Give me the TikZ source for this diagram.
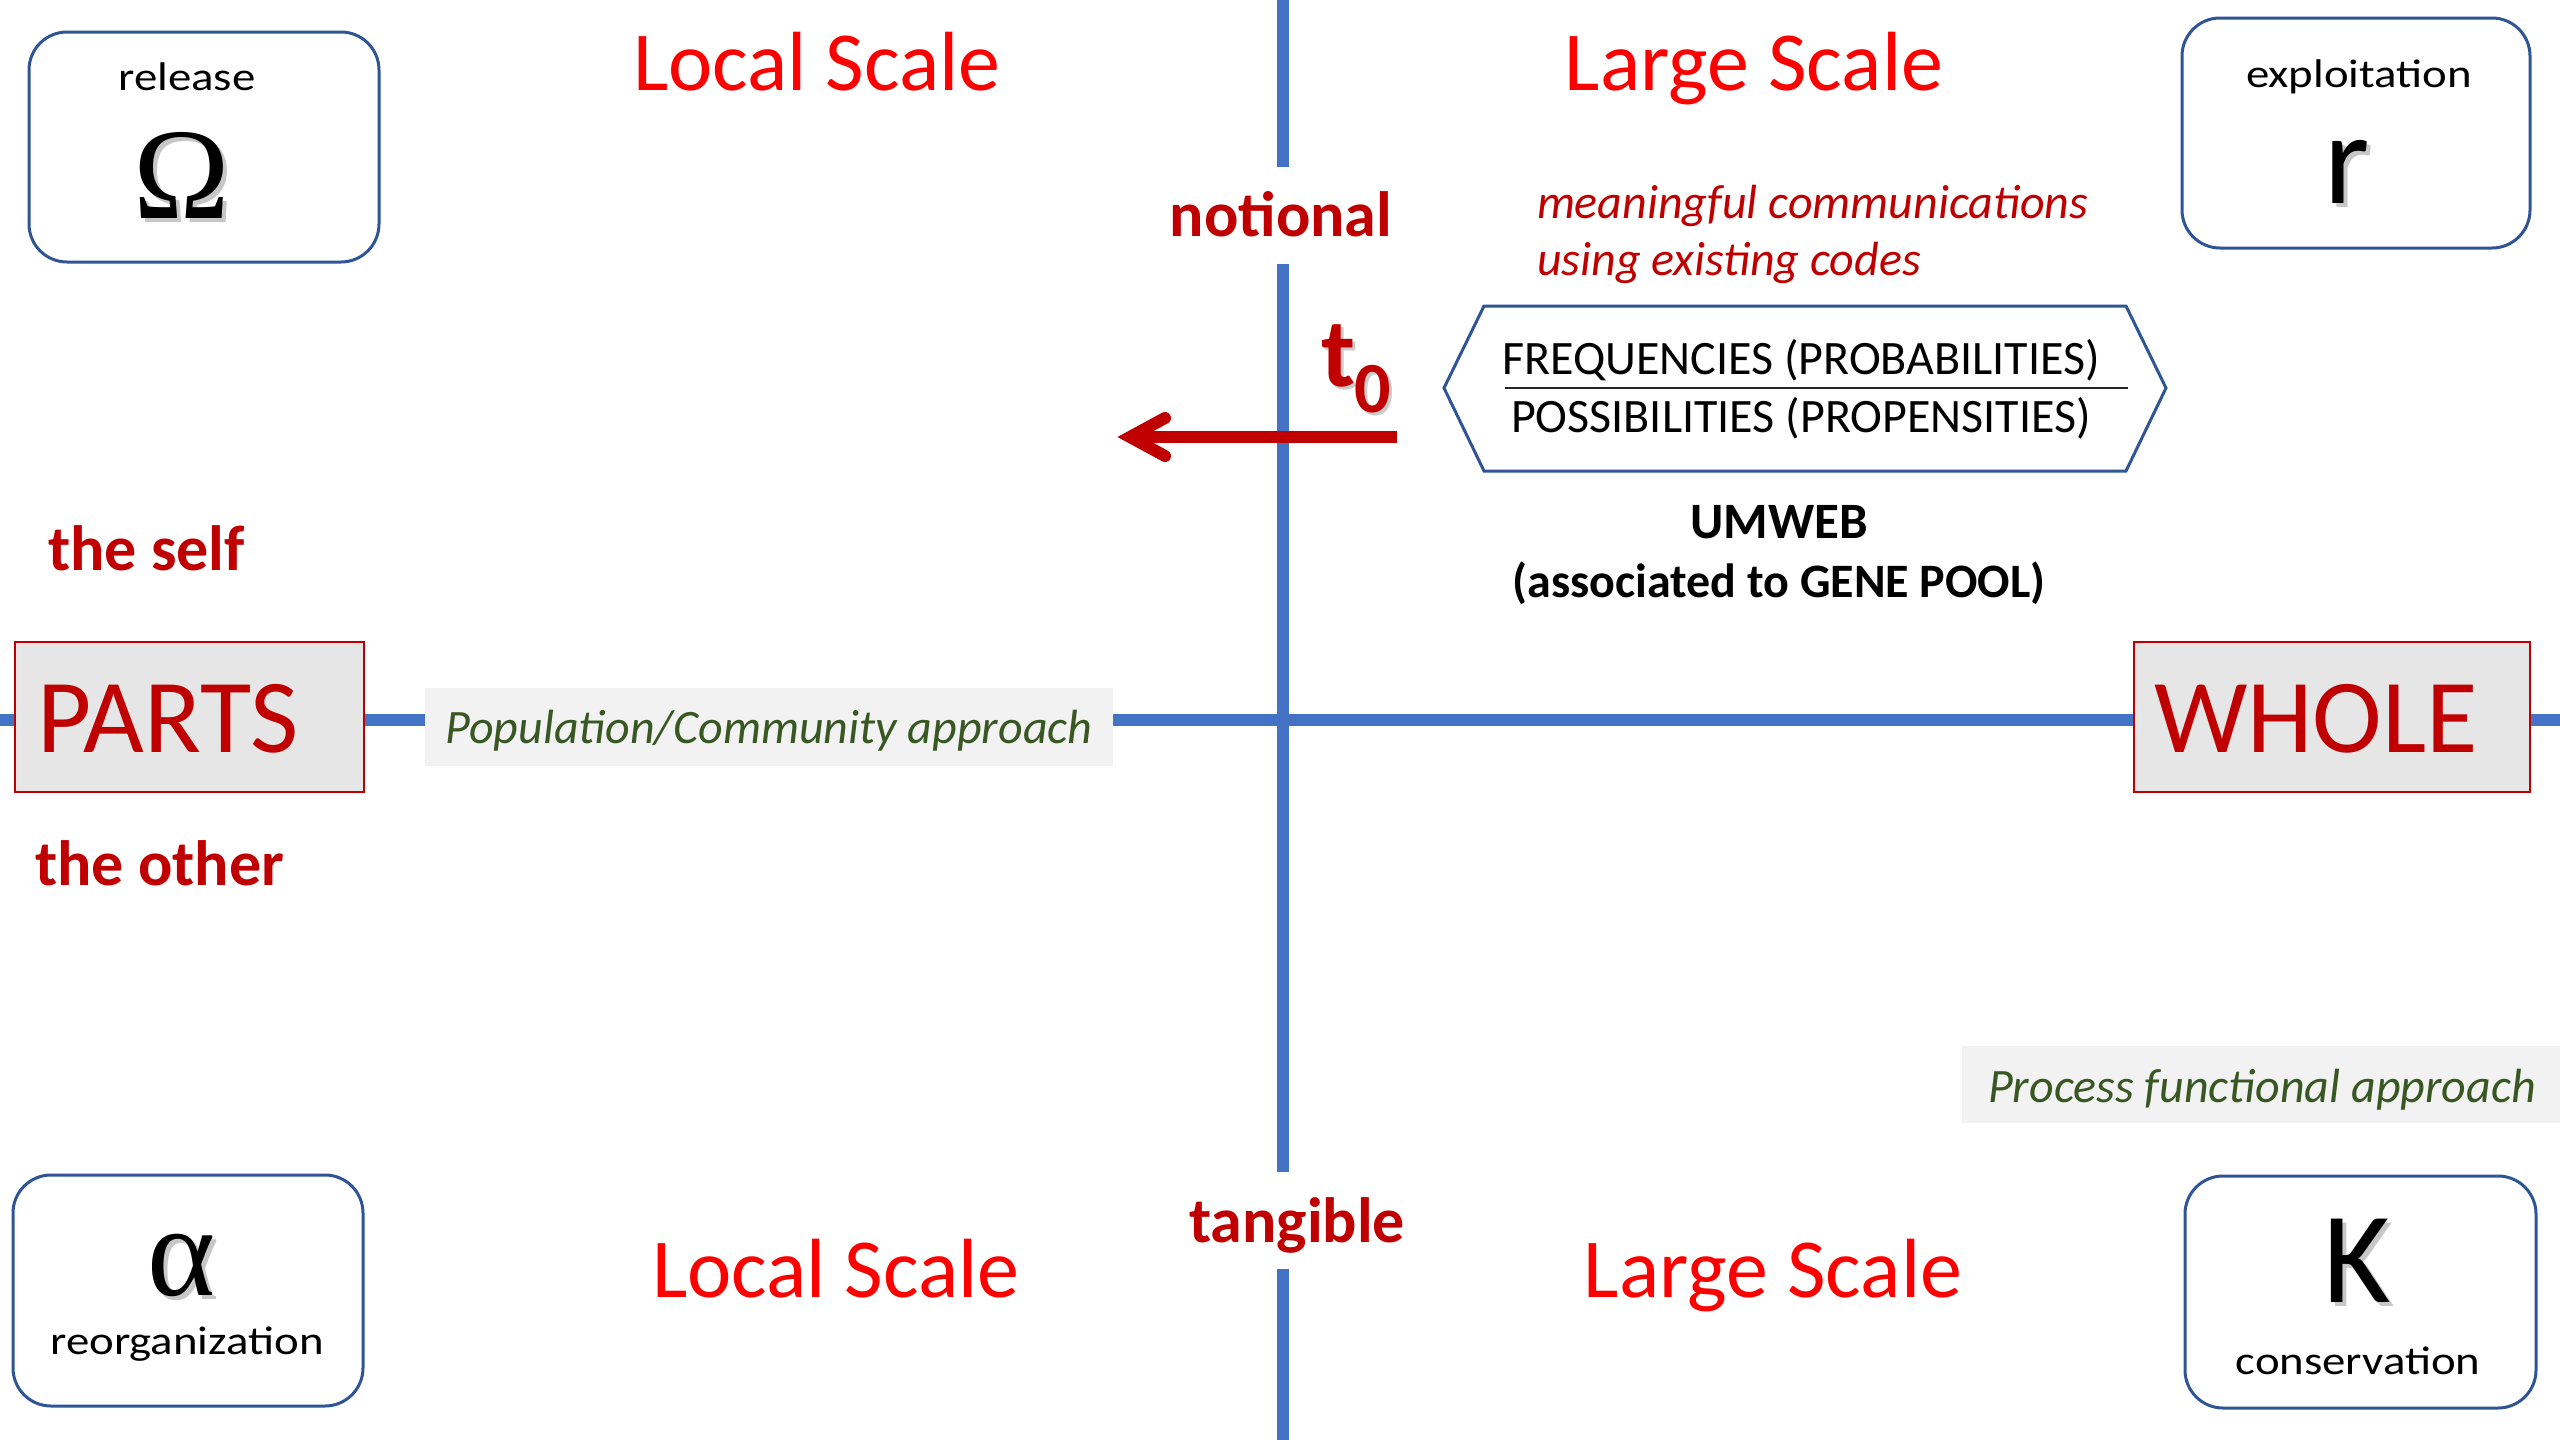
\documentclass[tikz,border=0pt]{standalone}
\usepackage{fontspec}
\setmainfont{Carlito}
\newfontfamily\serifgr{Liberation Serif}
\usetikzlibrary{calc}
\definecolor{axisblue}{HTML}{4472C4}
\definecolor{boxblue}{HTML}{2F5597}
\definecolor{darkred}{HTML}{C00000}
\definecolor{brightred}{HTML}{FF0000}
\definecolor{leafgreen}{HTML}{385723}
\definecolor{partsgray}{HTML}{E6E6E6}
\definecolor{labelgray}{HTML}{F2F2F2}
\newcommand{\fsz}[1]{\fontsize{#1}{#1}\selectfont}
\begin{document}
\begin{tikzpicture}[x=1pt,y=-1pt,
  every node/.style={inner sep=0pt, outer sep=0pt},
  axisline/.style={axisblue, line width=12pt},
  phasebox/.style={draw=boxblue, line width=3pt, rounded corners=38pt, fill=white},
  boxword/.style={font=\fsz{40}, text=black},
  bigsym/.style={font=\fsz{130}, text=black},
  symshadow/.style={font=\fsz{130}, text=black, opacity=0.22},
  termbox/.style={draw=darkred, line width=2pt, fill=partsgray, text=darkred, font=\fsz{105}, text height=110pt, text depth=40pt},
  approach/.style={fill=labelgray, text=leafgreen, font=\itshape\fsz{48}},
  scalelabel/.style={text=brightred, font=\fsz{84}},
  redbold/.style={text=darkred, font=\bfseries\fsz{64}},
  hexline/.style={draw=boxblue, line width=3pt, line join=miter}
]
\useasboundingbox (0,0) rectangle (2560,1440);
\fill[white] (0,0) rectangle (2560,1440);

% horizontal axis
\coordinate (hL) at (0,720);
\coordinate (hR) at (2560,720);
\draw[axisline] (hL) -- (hR);

% vertical axis with labels
\coordinate (vT) at (1283,0);
\coordinate (vB) at (1283,1440);
\node[redbold, anchor=base, text height=69pt, text depth=28pt] (notional) at (1281,236) {notional};
\node[redbold, anchor=base, text height=70pt, text depth=27pt] (tangible) at (1297,1242) {tangible};
\draw[axisline] (vT) -- (vT |- notional.north);
\draw[axisline] (vT |- notional.south) -- (vT |- tangible.north);
\draw[axisline] (vT |- tangible.south) -- (vB);

% scale labels
\node[scalelabel, anchor=base] (localtop) at (817,90) {Local Scale};
\node[scalelabel, anchor=base] (largetop) at (1754,90) {Large Scale};
\node[scalelabel, anchor=base] (localbot) at (836,1297) {Local Scale};
\node[scalelabel, anchor=base] (largebot) at (1773,1297) {Large Scale};

% corner boxes
\node[phasebox, minimum width=350pt, minimum height=230pt] (releasebox) at (204,147) {};
\node[boxword, anchor=base] (release) at (187,90) {\scalebox{1.17}[1]{release}};
\node[symshadow, anchor=base] (omegashadow) at (186,222) {\serifgr Ω};
\node[bigsym, anchor=base] (omega) at (182,218) {\serifgr Ω};

\node[phasebox, minimum width=348pt, minimum height=230pt] (exploitbox) at (2356,133) {};
\node[boxword, anchor=base] (exploit) at (2359,87) {\scalebox{1.17}[1]{exploitation}};
\node[symshadow, anchor=base] (rshadow) at (2351,207) {r};
\node[bigsym, anchor=base] (rsym) at (2347,203) {r};

\node[phasebox, minimum width=350pt, minimum height=231pt] (reorgbox) at (188,1290.5) {};
\node[symshadow, anchor=base] (alphashadow) at (186,1299) {\serifgr α};
\node[bigsym, anchor=base] (alpha) at (182,1295) {\serifgr α};
\node[boxword, anchor=base] (reorg) at (187,1354) {\scalebox{1.17}[1]{reorganization}};

\node[phasebox, minimum width=351pt, minimum height=232pt] (conservbox) at (2360.5,1292) {};
\node[symshadow, anchor=base] (kshadow) at (2361,1306) {K};
\node[bigsym, anchor=base] (ksym) at (2357,1302) {K};
\node[boxword, anchor=base] (conserv) at (2358,1374) {\scalebox{1.17}[1]{conservation}};

% parts / whole
\node[termbox, anchor=base west] (parts) at (15,752) {\makebox[349pt][l]{\hspace*{22pt}PARTS}};
\node[termbox, anchor=base west] (whole) at (2134,752) {\makebox[396pt][l]{\hspace*{20pt}WHOLE}};
\node[redbold, anchor=base west] (self) at (48,570) {the self};
\node[redbold, anchor=base west] (other) at (35,885) {the other};

% approach labels
\node[approach, anchor=base, minimum width=688pt, text height=55pt, text depth=23pt] (popapproach) at (769,743) {Population/Community approach};
\node[approach, anchor=base, minimum width=600pt, text height=56pt, text depth=21pt] (procapproach) at (2262,1102) {Process functional approach};

% meaningful communications
\node[anchor=base west, text=darkred, font=\itshape\fsz{48}] (meaning1) at (1537,218) {meaningful communications};
\node[anchor=base west, text=darkred, font=\itshape\fsz{48}] (meaning2) at (1537,275) {using existing codes};

% hexagon
\draw[hexline] (1484,306) -- (2126,306) -- (2166,388) -- (2126,471) -- (1484,471) -- (1444,388) -- cycle;
\node[anchor=base, font=\fsz{48}] (freq) at (1801,374) {FREQUENCIES (PROBABILITIES)};
\draw[black!85, line width=2pt] (1505,388) -- (2128,388);
\node[anchor=base, font=\fsz{48}] (poss) at (1801,432) {POSSIBILITIES (PROPENSITIES)};

% umweb
\node[anchor=base, font=\bfseries\fsz{51}] (umweb) at (1779,538) {UMWEB};
\node[anchor=base, font=\bfseries\fsz{48}] (gene) at (1779,597) {(associated to GENE POOL)};

% t0 and arrow
\node[anchor=base west, text=black, opacity=0.2, font=\bfseries] (tzeroshadow) at (1324,389) {\fsz{98}t\raisebox{-26pt}{\fsz{72}0}};
\node[anchor=base west, text=darkred, font=\bfseries] (tzero) at (1321,386) {\fsz{98}t\raisebox{-26pt}{\fsz{72}0}};
\coordinate (arrowstart) at (1397,437);
\coordinate (arrowtip) at (1130,437);
\coordinate (barbup) at (1165,418);
\coordinate (barbdown) at (1165,456);
\draw[darkred, line width=12pt] (arrowstart) -- (arrowtip);
\draw[darkred, line width=12pt, line cap=round, line join=miter] (barbup) -- (arrowtip) -- (barbdown);
\end{tikzpicture}
\end{document}
